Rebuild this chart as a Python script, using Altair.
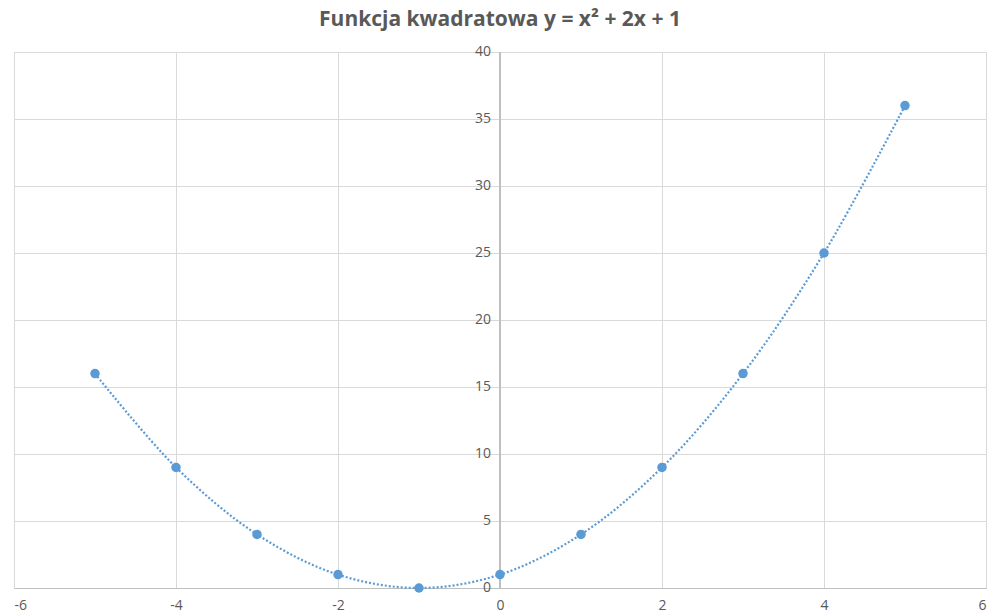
import altair as alt
import pandas as pd

# Sample points of y = x^2 + 2x + 1
xs = [-5, -4, -3, -2, -1, 0, 1, 2, 3, 4, 5]
ys = [16, 9, 4, 1, 0, 1, 4, 9, 16, 25, 36]

x_ticks = [-6, -4, -2, 0, 2, 4, 6]
y_ticks = [0, 5, 10, 15, 20, 25, 30, 35, 40]

df = pd.DataFrame({"x": xs, "y": ys})
ydf = pd.DataFrame({"y": y_ticks})

PLOT_W = 972
PLOT_H = 536
BLUE = "#5b9bd5"
TEXT = "#595959"
FONT = "Open Sans"

x_scale = alt.Scale(domain=[-6, 6], nice=False, zero=False)
y_scale = alt.Scale(domain=[0, 40], nice=False)

x_enc = alt.X(
    "x:Q",
    scale=x_scale,
    axis=alt.Axis(
        values=x_ticks, title=None, grid=True, gridColor="#d9d9d9",
        domainColor="#bfbfbf", ticks=False, labelPadding=10,
        labelFontSize=14, labelColor=TEXT, labelFont=FONT,
        labelExpr="'' + datum.value",
    ),
)
y_enc = alt.Y(
    "y:Q",
    scale=y_scale,
    axis=alt.Axis(
        values=y_ticks, title=None, grid=True, gridColor="#d9d9d9",
        domain=False, ticks=False, labels=False,
    ),
)

base = alt.Chart(df).encode(x=x_enc, y=y_enc)

# vertical axis drawn through x = 0
zero_axis = alt.Chart(ydf).mark_rule(color="#bfbfbf", strokeWidth=1).encode(
    x=alt.X(datum=0, scale=x_scale),
    y=alt.value(0),
    y2=alt.value(PLOT_H),
)

# value labels of the vertical axis, placed just left of x = 0
y_labels = alt.Chart(ydf).mark_text(
    align="right", baseline="middle", dx=-9, fontSize=14, font=FONT, color=TEXT
).encode(
    x=alt.X(datum=0, scale=x_scale),
    y=alt.Y("y:Q", scale=y_scale),
    text=alt.Text("y:Q"),
)

curve = base.mark_line(
    color=BLUE, strokeWidth=2.2, strokeDash=[2, 2], interpolate="catmull-rom"
)
points = base.mark_circle(color=BLUE, size=90, opacity=1)

chart = (
    alt.layer(base.mark_point(opacity=0), zero_axis, y_labels, curve, points)
    .properties(
        width=PLOT_W,
        height=PLOT_H,
        autosize=alt.AutoSizeParams(type="none"),
        padding={"left": 14, "top": 52, "right": 4, "bottom": 27},
        title=alt.TitleParams(
            "Funkcja kwadratowa y = x² + 2x + 1",
            fontSize=21, font=FONT, fontWeight="bold", color=TEXT,
            anchor="middle", offset=15,
        ),
    )
    .configure_view(stroke=None)
    .configure(background="white")
)

chart.save("out.html", embed_options={"renderer": "svg", "actions": False})
